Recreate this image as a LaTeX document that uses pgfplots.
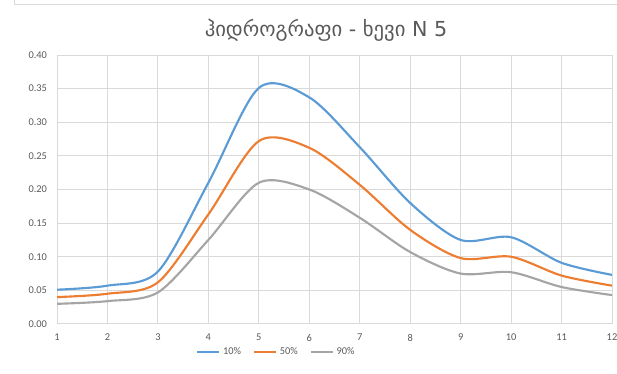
\documentclass[border=0pt]{standalone}
\usepackage{pgfplots}
\pgfplotsset{compat=1.18}
\usepackage{fontspec}
\setmainfont{Carlito}
\newfontfamily\geo{DejaVu Sans}
\definecolor{cblue}{HTML}{5B9BD5}
\definecolor{corange}{HTML}{ED7D31}
\definecolor{cgray}{HTML}{A5A5A5}
\definecolor{gridc}{HTML}{D9D9D9}
\definecolor{txt}{HTML}{595959}
\begin{document}
\begin{tikzpicture}
\useasboundingbox (0,0) rectangle (462.75pt,280.5pt);
\draw[gridc, line width=0.75pt] (10.5pt,290pt) |- (470pt,276.75pt);
\node[font=\geo\fontsize{15.5}{18}\selectfont, text=txt] at (244.5pt,258pt) {ჰიდროგრაფი - ხევი N 5};
\begin{axis}[
  at={(42.75pt,37.5pt)}, anchor=south west,
  scale only axis, width=416.25pt, height=201.75pt,
  xmin=1, xmax=12, ymin=0, ymax=0.4,
  xtick={1,...,12}, ytick={0,0.05,...,0.41},
  grid=major, major grid style={gridc, line width=0.75pt},
  axis line style={draw=none},
  major tick length=0pt,
  extra y ticks={0}, extra y tick labels={},
  extra y tick style={grid style={color=black!30, line width=0.75pt}},
  tick label style={font=\fontsize{7.8}{9}\selectfont, text=txt},
  /pgf/number format/assume math mode=true,
  yticklabel style={/pgf/number format/fixed, /pgf/number format/fixed zerofill, /pgf/number format/precision=2, xshift=-4pt},
  xticklabel style={yshift=-4pt},
  legend columns=3,
  legend style={at={(0.396,-0.104)}, anchor=center, draw=none, fill=none,
    font=\fontsize{7.8}{9}\selectfont, text=txt,
    /tikz/every even column/.append style={column sep=7pt}},
  legend image code/.code={\draw[#1] plot coordinates {(0pt,0pt) (16.5pt,0pt)};},
  every axis plot/.append style={line width=1.6pt, smooth, no markers},
]
\addplot[cblue] coordinates {(1,0.051) (2,0.057) (3,0.078) (4,0.21) (5,0.351) (6,0.337) (7,0.263) (8,0.18) (9,0.125) (10,0.129) (11,0.091) (12,0.073)};
\addplot[corange] coordinates {(1,0.040) (2,0.045) (3,0.062) (4,0.163) (5,0.272) (6,0.262) (7,0.207) (8,0.140) (9,0.098) (10,0.100) (11,0.072) (12,0.057)};
\addplot[cgray] coordinates {(1,0.030) (2,0.034) (3,0.047) (4,0.125) (5,0.210) (6,0.200) (7,0.158) (8,0.107) (9,0.075) (10,0.077) (11,0.055) (12,0.043)};
\legend{10\%,50\%,90\%}
\end{axis}
\end{tikzpicture}
\end{document}
